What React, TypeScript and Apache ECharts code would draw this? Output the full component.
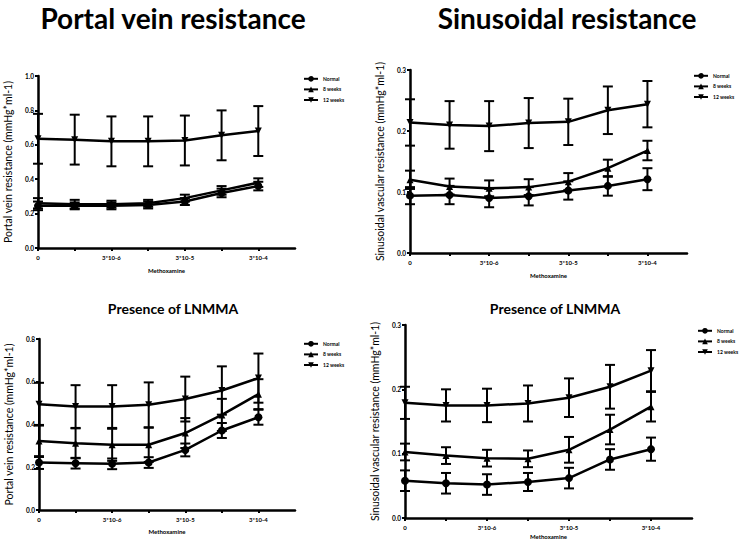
import React, { useEffect, useRef } from "react";
import * as echarts from "echarts";

const seriesNames = ["Normal", "8 weeks", "12 weeks"];
const xPositions = [0, 1, 2, 3, 4, 5, 6];
const xTickLabels = ["0", "", "3*10-6", "", "3*10-5", "", "3*10-4"];

// Portal vein resistance
const pvNormal = [0.245, 0.245, 0.245, 0.25, 0.27, 0.32, 0.36];
const pvNormalErr = [0.025, 0.02, 0.02, 0.02, 0.02, 0.025, 0.025];
const pv8w = [0.26, 0.255, 0.255, 0.26, 0.29, 0.335, 0.38];
const pv8wErr = [0.03, 0.025, 0.02, 0.02, 0.02, 0.025, 0.025];
const pv12w = [0.635, 0.63, 0.62, 0.62, 0.625, 0.655, 0.68];
const pv12wErr = [0.145, 0.145, 0.145, 0.145, 0.145, 0.145, 0.145];

// Sinusoidal resistance
const srNormal = [0.094, 0.095, 0.09, 0.093, 0.1025, 0.11, 0.121];
const srNormalErr = [0.014, 0.015, 0.015, 0.015, 0.015, 0.016, 0.018];
const sr8w = [0.12, 0.109, 0.106, 0.108, 0.117, 0.139, 0.168];
const sr8wErr = [0.015, 0.013, 0.013, 0.013, 0.014, 0.014, 0.016];
const sr12w = [0.214, 0.21, 0.208, 0.213, 0.215, 0.234, 0.244];
const sr12wErr = [0.038, 0.039, 0.041, 0.041, 0.038, 0.039, 0.038];

// Portal vein resistance, presence of LNMMA
const pvlNormal = [0.222, 0.219, 0.216, 0.222, 0.281, 0.372, 0.434];
const pvlNormalErr = [0.03, 0.025, 0.025, 0.025, 0.03, 0.035, 0.035];
const pvl8w = [0.323, 0.312, 0.305, 0.305, 0.36, 0.445, 0.542];
const pvl8wErr = [0.075, 0.07, 0.075, 0.08, 0.07, 0.075, 0.07];
const pvl12w = [0.495, 0.484, 0.484, 0.492, 0.519, 0.559, 0.617];
const pvl12wErr = [0.1, 0.1, 0.1, 0.105, 0.105, 0.113, 0.115];

// Sinusoidal resistance, presence of LNMMA
const srlNormal = [0.058, 0.054, 0.052, 0.056, 0.062, 0.091, 0.107];
const srlNormalErr = [0.016, 0.016, 0.016, 0.014, 0.016, 0.016, 0.018];
const srl8w = [0.1026, 0.097, 0.093, 0.092, 0.106, 0.1375, 0.173];
const srl8wErr = [0.013, 0.013, 0.013, 0.013, 0.02, 0.023, 0.023];
const srl12w = [0.179, 0.175, 0.175, 0.178, 0.187, 0.204, 0.229];
const srl12wErr = [0.025, 0.025, 0.026, 0.028, 0.03, 0.034, 0.032];

const FONT = "Lato, 'Open Sans', sans-serif";
const symbols = ["circle", "triangle", "triangle"];
const symbolRotates = [0, 0, 180];

const panels = [
  {
    grid: { left: 38, top: 76, width: 257, height: 172 },
    yMax: 1.0, yInterval: 0.2, xNameGap: 19,
    yName: "Portal vein resistance (mmHg*ml-1)",
    legend: { left: 298, top: 71 },
    values: [pvNormal, pv8w, pv12w],
    errors: [pvNormalErr, pv8wErr, pv12wErr],
  },
  {
    grid: { left: 410, top: 70, width: 277, height: 183 },
    yMax: 0.3, yInterval: 0.1, xNameGap: 19,
    yName: "Sinusoidal vascular resistance (mmHg*ml-1)",
    legend: { left: 688, top: 68 },
    values: [srNormal, sr8w, sr12w],
    errors: [srNormalErr, sr8wErr, sr12wErr],
  },
  {
    grid: { left: 39, top: 339, width: 256, height: 171 },
    yMax: 0.8, yInterval: 0.2, xNameGap: 18,
    yName: "Portal vein resistance (mmHg*ml-1)",
    legend: { left: 298, top: 336 },
    values: [pvlNormal, pvl8w, pvl12w],
    errors: [pvlNormalErr, pvl8wErr, pvl12wErr],
  },
  {
    grid: { left: 405, top: 325, width: 287, height: 193 },
    yMax: 0.3, yInterval: 0.1, xNameGap: 15,
    yName: "Sinusoidal vascular resistance (mmHg*ml-1)",
    legend: { left: 692, top: 323 },
    values: [srlNormal, srl8w, srl12w],
    errors: [srlNormalErr, srl8wErr, srl12wErr],
  },
];

function errorBarRender(params: any, api: any) {
  const x = api.value(0);
  const lo = api.value(1);
  const hi = api.value(2);
  const pHi = api.coord([x, hi]);
  const pLo = api.coord([x, lo]);
  const w = 5;
  const style = { stroke: "#000", lineWidth: 2 };
  return {
    type: "group",
    children: [
      { type: "line", shape: { x1: pHi[0], y1: pHi[1], x2: pLo[0], y2: pLo[1] }, style },
      { type: "line", shape: { x1: pHi[0] - w, y1: pHi[1], x2: pHi[0] + w, y2: pHi[1] }, style },
      { type: "line", shape: { x1: pLo[0] - w, y1: pLo[1], x2: pLo[0] + w, y2: pLo[1] }, style },
    ],
  };
}

export default function App() {
  const ref = useRef<HTMLDivElement>(null);
  useEffect(() => {
    if (!ref.current) return;
    const chart = echarts.init(ref.current, null, { renderer: "svg" });

    const grids: any[] = [];
    const xAxes: any[] = [];
    const yAxes: any[] = [];
    const legends: any[] = [];
    const series: any[] = [];

    panels.forEach((p, i) => {
      grids.push({ ...p.grid, outerBoundsMode: "none", containLabel: false });
      xAxes.push({
        type: "value",
        gridIndex: i,
        min: 0,
        max: 7,
        interval: 1,
        name: "Methoxamine",
        nameLocation: "middle",
        nameGap: p.xNameGap,
        nameTextStyle: { fontSize: 6, fontWeight: "bold", color: "#000", fontFamily: FONT },
        axisLine: { lineStyle: { color: "#000", width: 2.5 } },
        axisTick: { show: true, length: 3, lineStyle: { color: "#000", width: 2 }, customValues: xPositions },
        axisLabel: {
          customValues: [0, 2, 4, 6],
          formatter: (v: number) => xTickLabels[v] ?? "",
          fontSize: 6,
          fontWeight: "bold",
          color: "#000",
          fontFamily: FONT,
          margin: 6,
        },
        splitLine: { show: false },
      });
      yAxes.push({
        type: "value",
        gridIndex: i,
        min: 0,
        max: p.yMax,
        interval: p.yInterval,
        name: p.yName,
        nameLocation: "middle",
        nameGap: 25,
        nameTextStyle: { fontSize: 10.5, color: "#000", fontFamily: FONT },
        axisLine: { show: true, lineStyle: { color: "#000", width: 2.5 } },
        axisTick: { show: true, length: 3, lineStyle: { color: "#000", width: 2 } },
        axisLabel: {
          formatter: (v: number) => v.toFixed(1),
          fontSize: 6.5,
          fontWeight: "bold",
          color: "#000",
          fontFamily: FONT,
          margin: 4,
        },
        splitLine: { show: false },
      });
      legends.push({
        left: p.legend.left,
        top: p.legend.top,
        orient: "vertical",
        data: seriesNames,
        itemWidth: 14,
        itemHeight: 7,
        itemGap: 5,
        selectedMode: false,
        textStyle: { fontSize: 5, fontWeight: "bold", color: "#000", fontFamily: FONT },
      });
      seriesNames.forEach((name, k) => {
        const vals = p.values[k];
        const errs = p.errors[k];
        series.push({
          type: "line",
          name,
          xAxisIndex: i,
          yAxisIndex: i,
          data: xPositions.map((x, j) => [x, vals[j]]),
          symbol: symbols[k],
          symbolRotate: symbolRotates[k],
          symbolSize: k === 0 ? 8 : 7,
          lineStyle: { color: "#000", width: 2.5 },
          itemStyle: { color: "#000" },
          z: 3,
        });
        series.push({
          type: "custom",
          name,
          xAxisIndex: i,
          yAxisIndex: i,
          renderItem: errorBarRender,
          encode: { x: 0, y: [1, 2] },
          data: xPositions.map((x, j) => [x, vals[j] - errs[j], vals[j] + errs[j]]),
          z: 2,
          silent: true,
        });
      });
    });

    chart.setOption({
      animation: false,
      backgroundColor: "#fff",
      grid: grids,
      xAxis: xAxes,
      yAxis: yAxes,
      legend: legends,
      series,
      graphic: [
        { type: "text", style: { text: "Portal vein resistance", x: 173, y: 18, textAlign: "center", textVerticalAlign: "middle", font: `bold 28px ${FONT}`, fill: "#000" } },
        { type: "text", style: { text: "Sinusoidal resistance", x: 567, y: 18, textAlign: "center", textVerticalAlign: "middle", font: `bold 28px ${FONT}`, fill: "#000" } },
        { type: "text", style: { text: "Presence of LNMMA", x: 173, y: 308, textAlign: "center", textVerticalAlign: "middle", font: `bold 14px ${FONT}`, fill: "#000" } },
        { type: "text", style: { text: "Presence of LNMMA", x: 555, y: 308, textAlign: "center", textVerticalAlign: "middle", font: `bold 14px ${FONT}`, fill: "#000" } },
      ],
    });
    return () => chart.dispose();
  }, []);
  return <div ref={ref} style={{ position: "absolute", left: 0, top: 0, width: 750, height: 545 }} />;
}
